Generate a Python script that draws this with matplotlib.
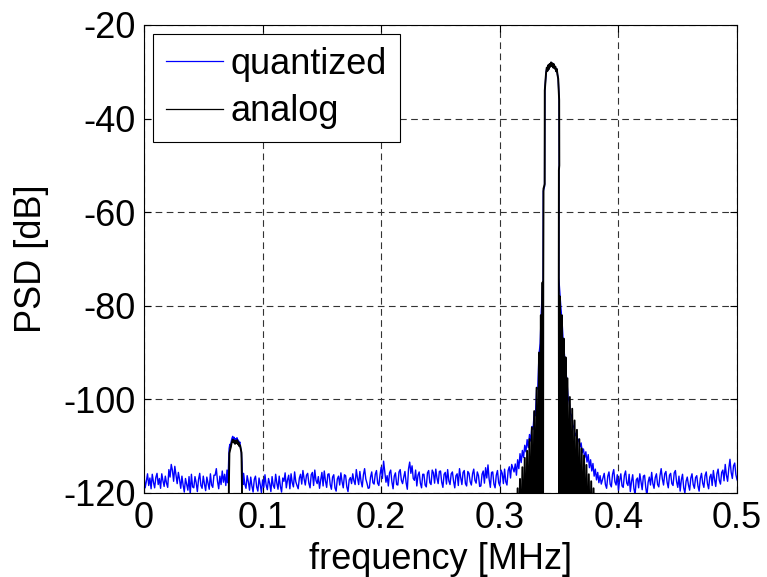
import numpy as np
import matplotlib.pyplot as plt

plt.rcParams['font.family'] = ['Liberation Sans', 'DejaVu Sans']
plt.rcParams['axes.unicode_minus'] = False

# noise floor of the quantized signal (0.001 MHz spacing)
noise_step = 0.001
noise_a_start = 0.0
noise_a_db = [-116.3, -118.9, -117.5, -115.9, -118.4, -116.8, -119.1, -116.0, -117.7, -118.9,
              -116.7, -115.8, -118.2, -116.9, -119.0, -115.9, -117.4, -118.6, -116.4, -117.9,
              -118.8, -115.0, -116.6, -113.9, -115.2, -117.5, -114.3, -116.1, -118.0, -115.6,
              -117.1, -119.0, -116.4, -118.3, -119.8, -116.9, -118.1, -119.4, -116.5, -120.3,
              -116.0, -118.7, -118.9, -116.5, -117.8, -119.7, -117.1, -115.8, -118.4, -119.0,
              -116.4, -118.1, -119.5, -116.6, -117.9, -119.2, -115.9, -118.3, -118.8, -116.2,
              -116.2, -114.8, -117.5, -119.1, -116.4, -118.2, -115.3, -117.7, -116.0, -118.4,
              -115.1]
noise_b_start = 0.084
noise_b_db = [-115.8, -118.1, -119.0, -116.3, -117.6, -119.4, -116.6, -118.5, -119.8, -117.1,
              -116.4, -118.7, -119.6, -116.8, -118.2, -119.9, -117.2, -118.8, -116.1, -118.3,
              -119.3, -116.9, -118.0, -119.7, -116.5, -118.4, -119.0, -116.0, -117.9, -119.2,
              -116.4, -118.6, -119.8, -116.8, -117.5, -115.7, -118.9, -117.2, -116.2, -119.1,
              -115.9, -117.8, -118.7, -115.5, -117.6, -118.4, -119.1, -116.8, -116.0, -118.1,
              -115.2, -117.0, -118.3, -116.2, -115.8, -117.9, -118.9, -116.1, -115.6, -118.4,
              -115.1, -117.3, -118.0, -116.5, -119.0, -117.2, -115.6, -118.5, -115.3, -117.4,
              -118.8, -116.0, -115.9, -118.2, -119.2, -116.6, -116.1, -118.9, -119.6, -117.0,
              -116.4, -118.3, -115.7, -117.6, -118.9, -116.1, -116.3, -118.7, -119.7, -117.2,
              -116.7, -118.0, -115.9, -117.4, -118.2, -115.0, -116.8, -118.2, -115.4, -117.5,
              -118.7, -116.1, -114.8, -117.0, -117.9, -119.0, -118.9, -116.6, -115.5, -117.8,
              -118.1, -116.0, -115.2, -117.9, -118.4, -116.1, -114.5, -116.9, -113.2, -115.4,
              -117.7, -116.3, -118.5, -115.7, -115.1, -117.6, -119.1, -116.4, -115.7, -118.2,
              -118.3, -115.5, -115.0, -117.3, -118.0, -116.6, -115.4, -117.8, -119.2, -114.9,
              -113.4, -115.8, -114.2, -116.9, -117.3, -115.1, -118.5, -116.2, -115.5, -117.9,
              -118.9, -116.0, -116.0, -118.3, -118.7, -115.7, -115.2, -117.8, -118.2, -115.1,
              -115.7, -117.9, -114.9, -116.8, -118.0, -115.4, -115.3, -117.7, -118.8, -116.0,
              -115.6, -118.1, -115.0, -117.4, -118.2, -115.9, -115.5, -117.5, -118.9, -116.3,
              -115.9, -118.4, -114.8, -116.7, -118.2, -115.6, -115.2, -118.0, -118.5, -115.4,
              -115.8, -117.6, -118.3, -115.9, -114.9, -117.3, -117.9, -115.5, -116.3, -118.6,
              -118.5, -116.0, -115.3, -117.9, -114.6, -116.8, -114.0, -117.1, -118.8, -115.6,
              -115.5, -118.1, -118.9, -116.2, -115.2, -117.8, -118.5, -115.1, -115.8, -118.0,
              -114.9, -117.6, -118.3, -115.2, -114.4, -116.8, -113.9]
noise_c_start = 0.388
noise_c_db = [-115.8, -118.2, -119.0, -116.4, -115.5, -118.1, -118.7, -116.0, -115.0, -117.6,
              -118.3, -116.1, -119.4, -117.3, -115.9, -118.5, -118.8, -116.2, -115.3, -117.9,
              -118.4, -116.0, -119.7, -117.5, -116.1, -119.0, -120.4, -117.2, -116.8, -118.9,
              -115.9, -117.6, -119.3, -116.4, -116.2, -118.8, -120.6, -117.7, -116.6, -118.3,
              -115.6, -118.0, -119.0, -116.7, -115.9, -118.2, -118.7, -116.3, -114.8, -117.0,
              -118.3, -115.9, -115.4, -117.7, -118.9, -116.2, -115.8, -118.0, -118.4, -115.7,
              -115.2, -117.6, -118.8, -116.4, -119.6, -117.2, -116.0, -118.9, -120.0, -117.5,
              -116.6, -118.3, -119.4, -116.8, -115.9, -118.2, -119.0, -116.7, -116.3, -118.5,
              -119.6, -116.9, -115.8, -117.9, -118.8, -116.3, -115.5, -118.0, -119.1, -116.6,
              -116.0, -118.4, -115.2, -117.1, -118.6, -115.9, -114.9, -117.3, -118.1, -115.6,
              -115.1, -117.4, -113.9, -116.2, -117.5, -114.8, -112.8, -115.6, -116.9, -114.2,
              -113.6, -116.1, -117.2]

# small tone near 0.077 MHz
bump_q_f = [0.0705, 0.0710, 0.0714, 0.0718, 0.0724, 0.0730, 0.0736, 0.0742, 0.0748, 0.0754,
            0.0760, 0.0766, 0.0772, 0.0778, 0.0784, 0.0790, 0.0796, 0.0802, 0.0808, 0.0814,
            0.0820, 0.0826, 0.0830, 0.0836]
bump_q_db = [-117.8, -116.5, -113.0, -110.5, -109.6, -110.2, -108.9, -108.3, -107.9, -108.6,
             -108.1, -109.0, -108.4, -108.8, -108.2, -109.3, -108.7, -109.6, -109.1, -110.3,
             -111.0, -113.5, -116.8, -118.2]
bump_a_f = [0.0712, 0.0716, 0.0720, 0.0726, 0.0732, 0.0738, 0.0744, 0.0750, 0.0756, 0.0762,
            0.0768, 0.0774, 0.0780, 0.0786, 0.0792, 0.0798, 0.0804, 0.0810, 0.0816, 0.0822,
            0.0826, 0.0830]
bump_a_db = [-135, -118, -111.5, -110.8, -110.2, -109.4, -108.9, -108.6, -109.2, -108.8,
             -109.5, -108.9, -109.3, -108.7, -109.6, -109.2, -110.0, -109.8, -110.6, -111.4,
             -118, -135]

# main tone: flat top shared by both traces
top_f = [0.3379, 0.3386, 0.3390, 0.3396, 0.3402, 0.3408, 0.3414, 0.3420, 0.3426, 0.3432,
         0.3438, 0.3444, 0.3450, 0.3456, 0.3462, 0.3468, 0.3474, 0.3480, 0.3486, 0.3492,
         0.3500, 0.3501, 0.3498, 0.3497]
top_db = [-34.0, -31.5, -30.2, -29.1, -29.8, -28.6, -29.4, -28.3, -28.9, -28.0,
          -28.8, -28.2, -29.1, -28.4, -29.3, -28.9, -29.9, -29.4, -30.6, -31.5,
          -36.0, -50.0, -51.0, -74.0]

# quantized skirts
skirt_q_left_f = [0.3120, 0.3130, 0.3140, 0.3150, 0.3160, 0.3170, 0.3180, 0.3190, 0.3200, 0.3210,
                  0.3220, 0.3230, 0.3240, 0.3250, 0.3260, 0.3270, 0.3280, 0.3290, 0.3300, 0.3310,
                  0.3320, 0.3330, 0.3340, 0.3350, 0.3360, 0.3365, 0.3366, 0.3377]
skirt_q_left_db = [-115.5, -113.8, -116.2, -112.9, -114.8, -111.6, -113.5, -110.9, -112.4, -109.8,
                   -111.2, -108.6, -110.3, -107.5, -108.9, -105.8, -106.4, -102.7, -103.5, -98.0,
                   -97.5, -90.5, -88.0, -81.0, -76.0, -74.5, -55.5, -54.5]
skirt_q_right_f = [0.3505, 0.3515, 0.3525, 0.3535, 0.3545, 0.3555, 0.3565, 0.3575, 0.3585, 0.3595,
                   0.3605, 0.3615, 0.3625, 0.3635, 0.3645, 0.3655, 0.3665, 0.3675, 0.3685, 0.3695,
                   0.3705, 0.3715, 0.3725, 0.3735, 0.3745, 0.3755, 0.3765, 0.3775, 0.3785, 0.3795,
                   0.3805, 0.3815, 0.3825, 0.3835, 0.3845, 0.3855]
skirt_q_right_db = [-77.0, -80.5, -83.5, -88.0, -90.5, -93.5, -96.0, -99.5, -100.5, -103.0,
                    -103.5, -105.5, -106.0, -107.8, -107.2, -109.0, -108.5, -110.2, -109.3, -111.4,
                    -110.6, -112.5, -111.2, -113.4, -111.8, -114.6, -112.9, -115.3, -113.7, -116.4,
                    -114.9, -117.2, -115.6, -117.8, -116.3, -118.1]

# analog skirts (sidelobes with nulls far below the axis)
skirt_a_left_f = [0.3130, 0.3140, 0.3150, 0.3160, 0.3170, 0.3180, 0.3190, 0.3200, 0.3210, 0.3220,
                  0.3230, 0.3240, 0.3250, 0.3260, 0.3270, 0.3280, 0.3290, 0.3300, 0.3310, 0.3320,
                  0.3330, 0.3338, 0.3346, 0.3354, 0.3360, 0.3364, 0.3366, 0.3368, 0.3378]
skirt_a_left_db = [-121.5, -135, -119.0, -135, -117.0, -135, -114.5, -135, -112.5, -135,
                   -111.0, -135, -108.5, -135, -106.0, -135, -102.5, -135, -97.5, -135,
                   -90.0, -135, -82.0, -135, -75.0, -135, -74.0, -55.0, -54.0]
skirt_a_right_f = [0.3500, 0.3506, 0.3514, 0.3522, 0.3530, 0.3538, 0.3546, 0.3554, 0.3562, 0.3570,
                   0.3580, 0.3590, 0.3600, 0.3610, 0.3620, 0.3630, 0.3640, 0.3650, 0.3660, 0.3670,
                   0.3680, 0.3690, 0.3700, 0.3710, 0.3720, 0.3730, 0.3740, 0.3750, 0.3760, 0.3770,
                   0.3780, 0.3790, 0.3800, 0.3810, 0.3820]
skirt_a_right_db = [-135, -78.0, -135, -82.0, -135, -87.0, -135, -91.0, -135, -95.5,
                    -135, -99.5, -135, -102.0, -135, -104.5, -135, -106.5, -135, -108.5,
                    -135, -110.5, -135, -112.0, -135, -114.0, -135, -116.0, -135, -117.5,
                    -135, -119.0, -135, -120.5, -135]

x_ticks = [0, 0.1, 0.2, 0.3, 0.4, 0.5]
x_tick_labels = ['0', '0.1', '0.2', '0.3', '0.4', '0.5']
y_ticks = [-120, -100, -80, -60, -40, -20]


def grid_freqs(start, values):
    return start + noise_step * np.arange(len(values))


q_f = np.concatenate([grid_freqs(noise_a_start, noise_a_db), bump_q_f,
                      grid_freqs(noise_b_start, noise_b_db),
                      skirt_q_left_f, top_f, skirt_q_right_f,
                      grid_freqs(noise_c_start, noise_c_db)])
q_db = np.concatenate([noise_a_db, bump_q_db, noise_b_db,
                       skirt_q_left_db, top_db, skirt_q_right_db, noise_c_db])

a_f = np.concatenate([bump_a_f, skirt_a_left_f, top_f, skirt_a_right_f])
a_db = np.concatenate([bump_a_db, skirt_a_left_db, top_db, skirt_a_right_db])

fig = plt.figure(figsize=(7.67, 5.77), dpi=100)
ax = fig.add_axes([0.1877, 0.1456, 0.7733, 0.8111])

ax.plot(q_f, q_db, color='#0000ff', lw=1.0, label='quantized')
ax.plot(a_f, a_db, color='black', lw=1.4, label='analog')

ax.set_xlim(0, 0.5)
ax.set_ylim(-120, -20)
ax.set_xticks(x_ticks)
ax.set_xticklabels(x_tick_labels)
ax.set_yticks(y_ticks)
ax.tick_params(direction='in', top=True, right=True, length=5, width=0.8,
               labelsize=26, pad=6)
ax.grid(True, color='#333333', linestyle=(0, (6, 4)), lw=0.8)
for s in ax.spines.values():
    s.set_linewidth(0.8)

ax.set_xlabel('frequency [MHz]', fontsize=26, labelpad=4)
ax.set_ylabel('PSD [dB]', fontsize=26, labelpad=10)

leg = ax.legend(loc='upper left', fontsize=26, fancybox=False, framealpha=1,
                edgecolor='black', borderaxespad=0.25, borderpad=0.35,
                labelspacing=0.35, handlelength=1.6, handletextpad=0.2)
leg.get_frame().set_linewidth(0.8)
for line in leg.get_lines():
    line.set_linewidth(0.9)

plt.savefig('out.png', dpi=100)
plt.close()
